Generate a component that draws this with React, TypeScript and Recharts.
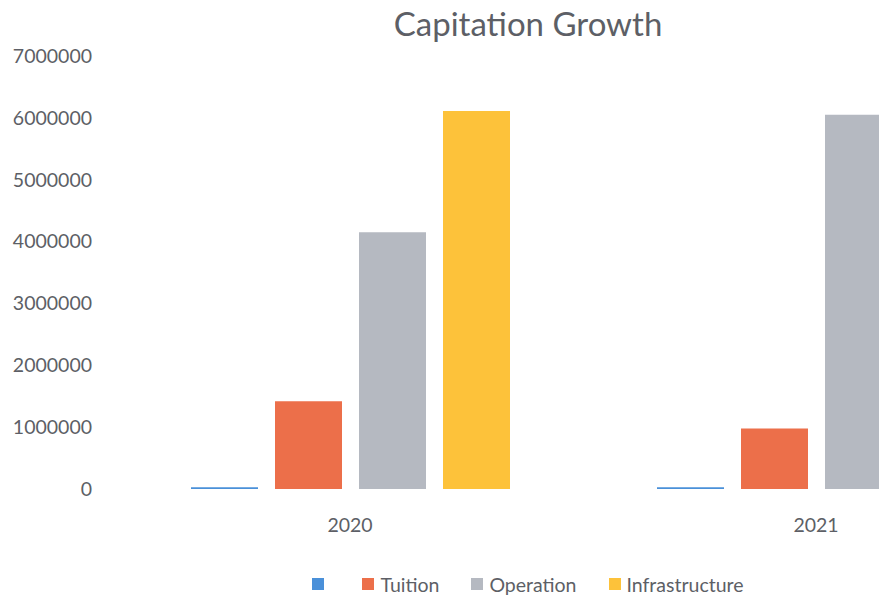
import { Bar, BarChart, Legend, XAxis, YAxis } from 'recharts';

const years = ['2020', '2021'];
const seriesNames = ['', 'Tuition', 'Operation', 'Infrastructure'];
const blankSeries = [30000, 30000];
const tuition = [1420000, 980000];
const operation = [4150000, 6050000];
const infrastructure = [6110000, 6200000];
const yTicks = [0, 1000000, 2000000, 3000000, 4000000, 5000000, 6000000, 7000000];

const data = years.map((year, i) => ({
  year,
  blank: blankSeries[i],
  tuition: tuition[i],
  operation: operation[i],
  infrastructure: infrastructure[i]
}));

const textColor = '#5d5f66';
const font = 'Lato, "Open Sans", sans-serif';

const renderLegend = (props: any) => {
  // keep the series order instead of alphabetical
  const items = [...props.payload].sort(
    (a: any, b: any) => seriesNames.indexOf(a.value) - seriesNames.indexOf(b.value)
  );
  return (
    <div
      style={{
        display: 'flex',
        justifyContent: 'center',
        alignItems: 'flex-start',
        height: 22,
        fontFamily: font,
        fontSize: 19.5,
        lineHeight: '20px',
        color: textColor
      }}
    >
      {items.map((entry: any, i: number) => (
        <span key={i} style={{ display: 'inline-flex', alignItems: 'flex-start', marginRight: i === items.length - 1 ? 0 : 32 }}>
          <span style={{ width: 12, height: 12, marginTop: 3, background: entry.color, display: 'inline-block' }} />
          <span style={{ marginLeft: 6 }}>{entry.value}</span>
        </span>
      ))}
    </div>
  );
};

const CapitationGrowth = () => {
  return (
    <div
      style={{
        margin: -8,
        width: 887,
        height: 604,
        overflow: 'hidden',
        position: 'relative',
        background: '#fff',
        fontFamily: font
      }}
    >
      <div
        style={{
          position: 'absolute',
          top: 7,
          left: 0,
          width: 1056,
          textAlign: 'center',
          fontSize: 33,
          lineHeight: '32px',
          color: textColor,
          zIndex: 1
        }}
      >
        Capitation Growth
      </div>
      <BarChart
        width={1056}
        height={604}
        data={data}
        margin={{ top: 56, right: 7, bottom: 53, left: 0 }}
        barSize={67}
        barGap={17}
      >
        <XAxis
          dataKey="year"
          axisLine={false}
          tickLine={false}
          tickSize={0}
          tickMargin={29}
          height={40}
          tick={{ fill: textColor, fontSize: 19.5, fontFamily: font }}
        />
        <YAxis
          domain={[0, 7000000]}
          ticks={yTicks}
          axisLine={false}
          tickLine={false}
          tickSize={0}
          tickMargin={25}
          width={117}
          interval={0}
          tick={{ fill: textColor, fontSize: 19.5, fontFamily: font }}
        />
        <Legend
          content={renderLegend}
          verticalAlign="bottom"
          wrapperStyle={{ top: 575, left: 0, width: 1056, height: 22 }}
        />
        <Bar dataKey="blank" name="" fill="#4a90d9" isAnimationActive={false} />
        <Bar dataKey="tuition" name="Tuition" fill="#ec6f4a" isAnimationActive={false} />
        <Bar dataKey="operation" name="Operation" fill="#b5b9c1" isAnimationActive={false} />
        <Bar dataKey="infrastructure" name="Infrastructure" fill="#fdc23a" isAnimationActive={false} />
      </BarChart>
    </div>
  );
};

export default CapitationGrowth;
